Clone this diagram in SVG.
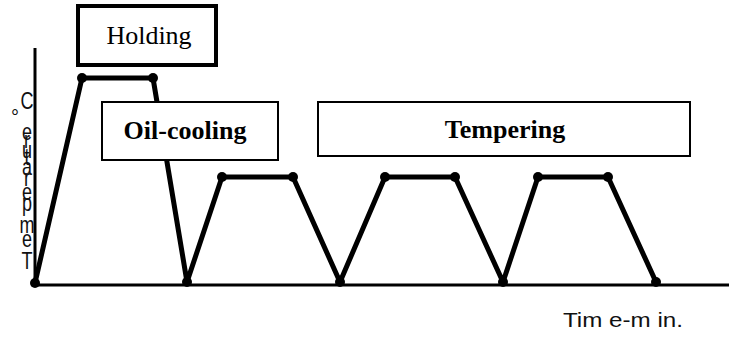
<svg xmlns="http://www.w3.org/2000/svg" width="729" height="338" viewBox="0 0 729 338">
  <style>
    .axis { stroke: #000; stroke-width: 3; fill: none; }
    .curve { stroke: #000; stroke-width: 5; fill: none; stroke-linejoin: round; }
    .pt { fill: #000; }
    .box { fill: #fff; stroke: #000; stroke-width: 2; }
    .serif { font-family: "Liberation Serif", "Times New Roman", serif; font-size: 26px; fill: #000; text-anchor: middle; }
    .sans { font-family: "Liberation Sans", Arial, sans-serif; fill: #111; }
    .ylab { font-family: "Liberation Sans", Arial, sans-serif; font-size: 20px; fill: #111; text-anchor: middle; }
  </style>

  <!-- axes -->
  <g id="axes">
    <line class="axis" x1="35" y1="48" x2="35" y2="286"/>
    <line class="axis" x1="35" y1="285" x2="729" y2="285"/>
  </g>

  <!-- temperature profile -->
  <g id="connectors">
    <polyline class="curve" points="35,283 82,78 153,78 187,282 222,177 293,177 340,282 385,177 455,177 503,282 538,177 608,177 656,282"/>
    <g class="pt">
      <circle cx="35" cy="283" r="5"/>
      <circle cx="82" cy="78" r="5"/>
      <circle cx="153" cy="78" r="5"/>
      <circle cx="187" cy="282" r="5"/>
      <circle cx="222" cy="177" r="5"/>
      <circle cx="293" cy="177" r="5"/>
      <circle cx="340" cy="282" r="5"/>
      <circle cx="385" cy="177" r="5"/>
      <circle cx="455" cy="177" r="5"/>
      <circle cx="503" cy="282" r="5"/>
      <circle cx="538" cy="177" r="5"/>
      <circle cx="608" cy="177" r="5"/>
      <circle cx="656" cy="282" r="5"/>
    </g>
  </g>

  <!-- stage labels -->
  <g id="holding">
    <rect class="box" x="78" y="6" width="138" height="59" style="stroke-width:4"/>
    <text class="serif" x="149" y="44">Holding</text>
  </g>
  <g id="oil-cooling">
    <rect class="box" x="102" y="102" width="176" height="58"/>
    <text class="serif" x="185" y="139" font-weight="bold">Oil-cooling</text>
  </g>
  <g id="tempering">
    <rect class="box" x="318" y="102" width="372" height="54"/>
    <text class="serif" x="505" y="138" font-weight="bold">Tempering</text>
  </g>

  <!-- axis titles -->
  <g id="x-title">
    <text class="sans" x="563" y="327" font-size="20" textLength="120" lengthAdjust="spacingAndGlyphs">Tim e-m in.</text>
  </g>
  <g id="y-title">
    <!-- stacked upright glyphs, slightly stretched vertically -->
    <text class="ylab" transform="translate(27,109) scale(0.9,1.2)">C</text>
    <text class="ylab" transform="translate(15,124)" font-size="15">°</text>
    <text class="ylab" transform="translate(27,140) scale(0.9,1.2)">e</text>
    <text class="ylab" transform="translate(27,148) scale(0.9,1.2)">r</text>
    <text class="ylab" transform="translate(27,158) scale(0.9,1.2)">u</text>
    <text class="ylab" transform="translate(27,165) scale(0.9,1.2)">t</text>
    <text class="ylab" transform="translate(27,175) scale(0.9,1.2)">a</text>
    <text class="ylab" transform="translate(27,186) scale(0.9,1.2)">r</text>
    <text class="ylab" transform="translate(27,200) scale(0.9,1.2)">e</text>
    <text class="ylab" transform="translate(27,211) scale(0.9,1.2)">p</text>
    <text class="ylab" transform="translate(27,233) scale(0.9,1.2)">m</text>
    <text class="ylab" transform="translate(27,247) scale(0.9,1.2)">e</text>
    <text class="ylab" transform="translate(27,269) scale(0.9,1.2)">T</text>
  </g>
</svg>
